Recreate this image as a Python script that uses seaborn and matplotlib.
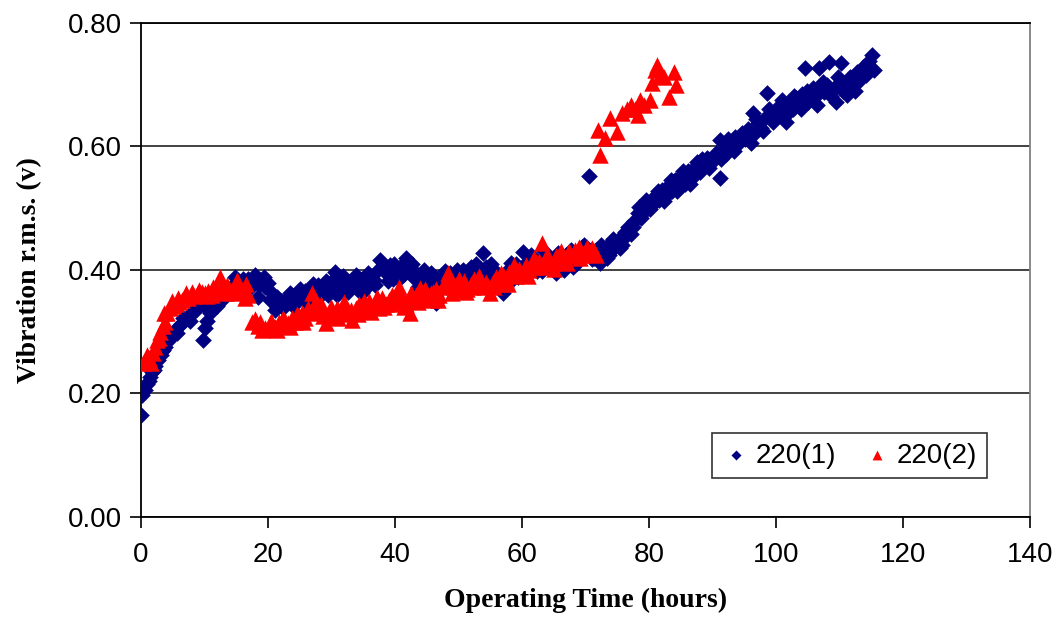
import matplotlib
matplotlib.use("Agg")
import matplotlib.pyplot as plt
import seaborn as sns
import pandas as pd

# Series 220(1): operating time (h) and vibration r.m.s. (V)
hours_1 = [
    0.0, 0.2, 0.6, 1.0, 1.4, 1.8, 2.2, 2.7, 3.1, 3.5, 3.8, 4.3, 4.8, 5.3, 5.8,
    6.3, 6.8, 7.4, 7.9, 8.4, 8.9, 9.4, 9.7, 10.0, 10.4, 10.8, 11.2, 11.7, 12.2,
    12.7, 13.2, 13.7, 14.2, 14.8, 15.3, 15.8, 16.3, 16.8, 17.3, 17.9, 18.4,
    18.8, 19.3, 20.0, 20.5, 21.1, 21.6, 22.1, 22.6, 23.1, 23.8, 24.3, 24.8,
    25.3, 25.8, 26.3, 26.8, 27.3, 27.9, 28.4, 28.9, 29.4, 30.0, 30.5, 31.0,
    31.5, 32.0, 32.6, 33.1, 33.6, 34.1, 34.6, 35.1, 35.6, 36.2, 36.7, 37.2,
    37.6, 38.2, 38.7, 39.2, 39.7, 40.3, 40.8, 41.3, 41.8, 42.3, 42.8, 43.3,
    43.9, 44.4, 44.9, 45.4, 46.0, 46.5, 47.0, 47.5, 48.0, 48.6, 49.1, 49.6,
    50.1, 50.7, 51.2, 51.7, 52.2, 52.7, 53.3, 53.8, 54.3, 54.8, 55.3, 55.9,
    56.4, 57.0, 57.5, 58.0, 58.5, 59.0, 59.6, 60.1, 60.6, 61.1, 61.6, 62.2,
    62.7, 63.2, 63.7, 64.3, 64.8, 65.4, 65.9, 66.4, 66.9, 67.5, 68.0, 68.5,
    69.0, 69.5, 70.1, 70.5, 71.0, 71.6, 72.2, 72.7, 73.2, 73.7, 74.2, 74.7,
    75.2, 75.7, 76.2, 76.7, 77.2, 77.7, 78.2, 78.7, 79.2, 79.6, 80.1, 80.6,
    81.1, 81.6, 82.1, 82.6, 83.1, 83.6, 84.1, 84.6, 85.1, 85.6, 86.1, 86.6,
    87.1, 87.6, 88.1, 88.6, 89.1, 89.6, 90.1, 90.6, 91.1, 91.1, 91.6, 92.1,
    92.6, 93.1, 93.6, 94.1, 94.6, 95.1, 95.6, 96.3, 96.6, 97.1, 97.6, 98.1,
    98.6, 99.1, 99.6, 100.1, 100.6, 101.1, 101.6, 102.1, 102.6, 103.1, 103.6,
    104.1, 104.5, 105.1, 105.6, 106.1, 106.8, 107.1, 107.6, 108.1, 108.4,
    109.0, 109.5, 110.0, 110.3, 110.8, 111.2, 111.7, 112.2, 112.7, 113.2,
    113.7, 114.2, 114.7, 115.1, 115.5,
    1.2, 2.0, 3.3, 4.6, 5.6, 6.6, 7.7, 8.7, 10.2, 11.0, 12.0, 13.0, 14.0,
    15.0, 16.0, 17.0, 17.6, 18.6, 19.6,
    20.3, 21.4, 22.4, 23.4, 24.0, 25.0, 26.0, 27.1, 28.1, 29.1, 29.8, 30.8,
    31.8, 32.8, 33.8, 34.8, 35.8, 36.9, 37.9, 38.9, 39.9, 40.6, 41.6, 42.6,
    43.6, 44.6, 45.7, 46.8, 47.8, 48.8, 49.8, 50.9, 51.9, 52.9, 54.0, 55.1,
    56.1, 57.2, 58.2, 59.3, 60.3, 61.4, 62.4, 63.5, 64.5, 65.6, 66.6, 67.7,
    68.7, 69.8, 70.8, 71.3, 72.4, 73.4, 74.4, 75.4, 76.4, 77.4, 78.4, 79.4,
    80.4, 81.4, 82.4, 83.4, 84.4, 85.4, 86.4, 87.4, 88.4, 89.4, 90.4, 91.4,
    92.4, 93.4, 94.4, 95.4, 96.0, 96.9, 97.9, 98.9, 99.9, 100.9, 101.9,
    102.9, 103.9, 104.9, 105.9, 106.5, 107.4, 108.7, 109.7, 110.6, 111.5,
    112.5, 113.5, 114.5,
]
vib_1 = [
    0.165, 0.198, 0.205, 0.215, 0.227, 0.235, 0.245, 0.254, 0.262, 0.270, 0.276,
    0.285, 0.295, 0.303, 0.308, 0.312, 0.318, 0.324, 0.330, 0.333, 0.340, 0.345,
    0.287, 0.306, 0.318, 0.330, 0.335, 0.348, 0.352, 0.358, 0.362, 0.368, 0.372,
    0.389, 0.375, 0.380, 0.372, 0.385, 0.378, 0.392, 0.357, 0.383, 0.388, 0.379,
    0.364, 0.335, 0.342, 0.350, 0.346, 0.355, 0.357, 0.348, 0.362, 0.355, 0.366,
    0.358, 0.370, 0.362, 0.375, 0.366, 0.372, 0.360, 0.382, 0.397, 0.385, 0.372,
    0.378, 0.365, 0.382, 0.375, 0.368, 0.380, 0.386, 0.372, 0.390, 0.383, 0.398,
    0.416, 0.402, 0.394, 0.408, 0.385, 0.398, 0.405, 0.392, 0.419, 0.400, 0.388,
    0.395, 0.380, 0.392, 0.376, 0.385, 0.372, 0.347, 0.380, 0.388, 0.372, 0.395,
    0.382, 0.375, 0.392, 0.400, 0.388, 0.375, 0.398, 0.410, 0.392, 0.427, 0.405,
    0.385, 0.395, 0.378, 0.388, 0.363, 0.392, 0.402, 0.385, 0.410, 0.398, 0.429,
    0.412, 0.395, 0.420, 0.405, 0.415, 0.398, 0.422, 0.410, 0.402, 0.395, 0.418,
    0.410, 0.425, 0.415, 0.405, 0.428, 0.420, 0.438, 0.425, 0.552, 0.418, 0.432,
    0.411, 0.428, 0.438, 0.425, 0.432, 0.445, 0.450, 0.440, 0.462, 0.470, 0.458,
    0.480, 0.492, 0.485, 0.505, 0.513, 0.498, 0.515, 0.522, 0.513, 0.530, 0.520,
    0.538, 0.528, 0.545, 0.535, 0.552, 0.540, 0.560, 0.548, 0.565, 0.575, 0.558,
    0.570, 0.582, 0.572, 0.578, 0.590, 0.610, 0.549, 0.595, 0.588, 0.605, 0.598,
    0.615, 0.605, 0.622, 0.612, 0.628, 0.654, 0.620, 0.638, 0.630, 0.645, 0.686,
    0.652, 0.640, 0.662, 0.655, 0.668, 0.640, 0.672, 0.660, 0.678, 0.668, 0.685,
    0.727, 0.672, 0.690, 0.680, 0.727, 0.695, 0.688, 0.700, 0.737, 0.692, 0.672,
    0.705, 0.735, 0.698, 0.683, 0.712, 0.702, 0.720, 0.708, 0.728, 0.715, 0.738,
    0.748, 0.724,
    0.220, 0.238, 0.268, 0.290, 0.298, 0.322, 0.318, 0.335, 0.340, 0.345, 0.342,
    0.355, 0.362, 0.368, 0.385, 0.370, 0.385, 0.376, 0.372,
    0.352, 0.356, 0.338, 0.362, 0.342, 0.370, 0.348, 0.378, 0.356, 0.382, 0.368,
    0.360, 0.390, 0.372, 0.392, 0.362, 0.395, 0.375, 0.405, 0.382, 0.410, 0.385,
    0.402, 0.410, 0.372, 0.400, 0.395, 0.365, 0.398, 0.378, 0.400, 0.378, 0.405,
    0.385, 0.398, 0.410, 0.395, 0.382, 0.412, 0.388, 0.405, 0.425, 0.398, 0.430,
    0.418, 0.428, 0.400, 0.432, 0.412, 0.440, 0.432, 0.420, 0.440, 0.420, 0.450,
    0.435, 0.455, 0.470, 0.502, 0.495, 0.505, 0.528, 0.512, 0.545, 0.528, 0.560,
    0.540, 0.560, 0.580, 0.565, 0.585, 0.580, 0.612, 0.592, 0.610, 0.620, 0.605,
    0.645, 0.625, 0.660, 0.645, 0.675, 0.655, 0.682, 0.660, 0.690, 0.695, 0.668,
    0.705, 0.682, 0.712, 0.690, 0.705, 0.690, 0.718, 0.728,
]

# Series 220(2)
hours_2 = [
    0.3, 0.8, 1.3, 1.9, 2.2, 2.5, 3.0, 3.4, 3.8, 4.1, 4.5, 5.0, 5.5, 6.0, 6.5,
    6.9, 7.4, 7.9, 8.4, 8.9, 9.6, 10.1, 10.6, 11.1, 11.6, 12.0, 12.4, 12.9,
    13.4, 13.9, 14.4, 15.1, 15.6, 16.0, 16.4, 16.9, 17.4, 17.9, 18.4, 19.0,
    19.6, 20.1, 20.6, 21.1, 21.7, 22.2, 22.7, 23.2, 23.8, 24.3, 24.8, 25.3,
    25.8, 26.3, 27.0, 27.4, 27.9, 28.4, 29.2, 29.7, 30.2, 30.8, 31.3, 31.8,
    32.3, 32.8, 33.3, 33.9, 34.4, 34.9, 35.4, 35.9, 36.5, 37.0, 37.5, 38.0,
    38.6, 39.1, 39.6, 40.1, 40.7, 41.2, 41.7, 42.3, 42.8, 43.3, 43.9, 44.4,
    44.9, 45.5, 46.0, 46.5, 47.0, 47.6, 48.3, 48.8, 49.3, 49.8, 50.3, 50.9,
    51.4, 51.9, 52.4, 52.9, 53.4, 54.0, 54.9, 55.4, 55.9, 56.5, 57.0, 57.5,
    58.0, 58.5, 59.0, 59.6, 60.1, 60.6, 61.1, 61.6, 62.2, 62.7, 63.2, 63.7,
    64.2, 64.8, 65.3, 65.8, 66.3, 66.8, 67.4, 67.9, 68.4, 69.0, 69.5, 70.0,
    70.5, 71.0, 71.6, 71.9, 72.2, 73.0, 73.8, 74.9, 75.8, 76.5, 77.2, 77.8,
    78.2, 78.5, 79.2, 80.1, 80.4, 80.9, 81.3, 81.8, 82.1, 82.4, 83.2, 84.0,
    84.3,
    1.0, 1.6, 2.8, 3.6, 4.8, 5.8, 7.1, 8.1, 9.2, 10.4, 11.4, 12.6, 13.6, 14.7,
    15.3, 16.6,
    18.7, 20.4, 21.4, 22.4, 23.5, 24.5, 25.5, 26.6, 27.6, 28.7, 29.9, 31.0,
    32.0, 33.0, 34.1, 35.1, 36.2, 37.2, 38.3, 39.3, 40.4, 41.4, 42.5, 43.6,
    44.7, 45.7, 46.8, 47.9, 49.0, 50.1, 51.1, 52.2, 53.2, 54.4, 55.6, 56.7,
    57.8, 58.8, 59.8, 60.9, 61.9, 63.0, 64.0, 65.0, 66.1, 67.1, 68.1, 69.2,
    70.2, 71.3,
]
vib_2 = [
    0.249, 0.252, 0.258, 0.265, 0.275, 0.287, 0.300, 0.310, 0.316, 0.330, 0.338,
    0.342, 0.345, 0.348, 0.352, 0.357, 0.355, 0.360, 0.358, 0.362, 0.365, 0.362,
    0.366, 0.360, 0.368, 0.365, 0.389, 0.368, 0.362, 0.370, 0.365, 0.383, 0.372,
    0.366, 0.354, 0.360, 0.316, 0.320, 0.310, 0.303, 0.306, 0.304, 0.312, 0.308,
    0.315, 0.311, 0.318, 0.314, 0.322, 0.316, 0.325, 0.330, 0.322, 0.338, 0.363,
    0.340, 0.332, 0.345, 0.314, 0.330, 0.325, 0.338, 0.330, 0.342, 0.335, 0.328,
    0.319, 0.338, 0.345, 0.335, 0.342, 0.350, 0.340, 0.348, 0.338, 0.355, 0.345,
    0.352, 0.360, 0.348, 0.372, 0.355, 0.345, 0.330, 0.352, 0.360, 0.371, 0.356,
    0.362, 0.351, 0.365, 0.370, 0.360, 0.372, 0.395, 0.375, 0.368, 0.378, 0.372,
    0.382, 0.370, 0.378, 0.385, 0.375, 0.382, 0.372, 0.363, 0.380, 0.388, 0.378,
    0.392, 0.385, 0.396, 0.400, 0.390, 0.402, 0.395, 0.408, 0.400, 0.412, 0.405,
    0.415, 0.444, 0.410, 0.418, 0.412, 0.422, 0.415, 0.425, 0.418, 0.430, 0.422,
    0.432, 0.437, 0.425, 0.432, 0.428, 0.435, 0.425, 0.627, 0.586, 0.614, 0.646,
    0.623, 0.654, 0.660, 0.667, 0.660, 0.651, 0.675, 0.668, 0.675, 0.703, 0.724,
    0.732, 0.715, 0.716, 0.713, 0.680, 0.721, 0.700,
    0.262, 0.250, 0.290, 0.330, 0.350, 0.355, 0.362, 0.365, 0.368, 0.358, 0.372,
    0.372, 0.375, 0.370, 0.362, 0.378,
    0.316, 0.318, 0.302, 0.322, 0.308, 0.328, 0.315, 0.330, 0.350, 0.325, 0.340,
    0.322, 0.348, 0.336, 0.328, 0.350, 0.332, 0.356, 0.340, 0.345, 0.358, 0.340,
    0.362, 0.348, 0.370, 0.362, 0.352, 0.380, 0.362, 0.385, 0.365, 0.372, 0.390,
    0.380, 0.372, 0.395, 0.378, 0.408, 0.395, 0.390, 0.420, 0.405, 0.425, 0.402,
    0.430, 0.412, 0.425, 0.420, 0.438, 0.430,
]

series_names = ["220(1)", "220(2)"]
x_ticks = [0, 20, 40, 60, 80, 100, 120, 140]
y_ticks = [0.0, 0.2, 0.4, 0.6, 0.8]

df1 = pd.DataFrame({"hours": hours_1, "vib": vib_1, "run": series_names[0]})
df2 = pd.DataFrame({"hours": hours_2, "vib": vib_2, "run": series_names[1]})

sns.set_style("white")
plt.rcParams["font.family"] = ["Liberation Sans", "DejaVu Sans"]
plt.rcParams["text.color"] = "black"
plt.rcParams["axes.labelcolor"] = "black"
plt.rcParams["xtick.color"] = "black"
plt.rcParams["ytick.color"] = "black"

fig = plt.figure(figsize=(10.62, 6.30), dpi=100)
ax = fig.add_axes([0.1328, 0.1794, 0.8371, 0.7841])

navy = "#000080"
red = "#FF0000"

sns.scatterplot(data=df1, x="hours", y="vib", marker="D", s=72,
                color=navy, linewidth=0, ax=ax, label=series_names[0], zorder=3)
sns.scatterplot(data=df2, x="hours", y="vib", marker="^", s=140,
                color=red, linewidth=0, ax=ax, label=series_names[1], zorder=4)

ax.set_xlim(0, 140)
ax.set_ylim(0, 0.8)
ax.set_xticks(x_ticks)
ax.set_yticks(y_ticks)
ax.set_yticklabels([f"{v:.2f}" for v in y_ticks])
ax.tick_params(axis="both", which="major", labelsize=20, length=8,
               width=1.2, color="black", labelcolor="black", direction="out",
               bottom=True, left=True, top=False, right=False)
ax.tick_params(axis="x", pad=10)
ax.tick_params(axis="y", pad=6)

ax.yaxis.grid(True, color="#222222", linewidth=1.2)
ax.xaxis.grid(False)
ax.set_axisbelow(True)

for side in ["left", "bottom", "top"]:
    ax.spines[side].set_color("black")
    ax.spines[side].set_linewidth(1.3)
ax.spines["right"].set_color("#808080")
ax.spines["right"].set_linewidth(1.3)

serif = ["Liberation Serif", "DejaVu Serif"]
ax.set_xlabel("Operating Time (hours)", fontsize=20, fontweight="bold",
              family=serif, labelpad=14, color="black")
ax.set_ylabel("Vibration r.m.s. (v)", fontsize=20, fontweight="bold",
              family=serif, labelpad=18, color="black")

leg = ax.legend(loc="center", bbox_to_anchor=(0.797, 0.124), ncol=2,
                fontsize=20, frameon=True, fancybox=False, shadow=False,
                handletextpad=0.2, columnspacing=1.0, borderpad=0.35,
                markerscale=0.6, handlelength=1.0)
leg.get_frame().set_edgecolor("#333333")
leg.get_frame().set_linewidth(1.2)
leg.get_frame().set_facecolor("white")
leg.get_frame().set_alpha(1)
for t in leg.get_texts():
    t.set_color("black")

fig.savefig("out.png", dpi=100)
